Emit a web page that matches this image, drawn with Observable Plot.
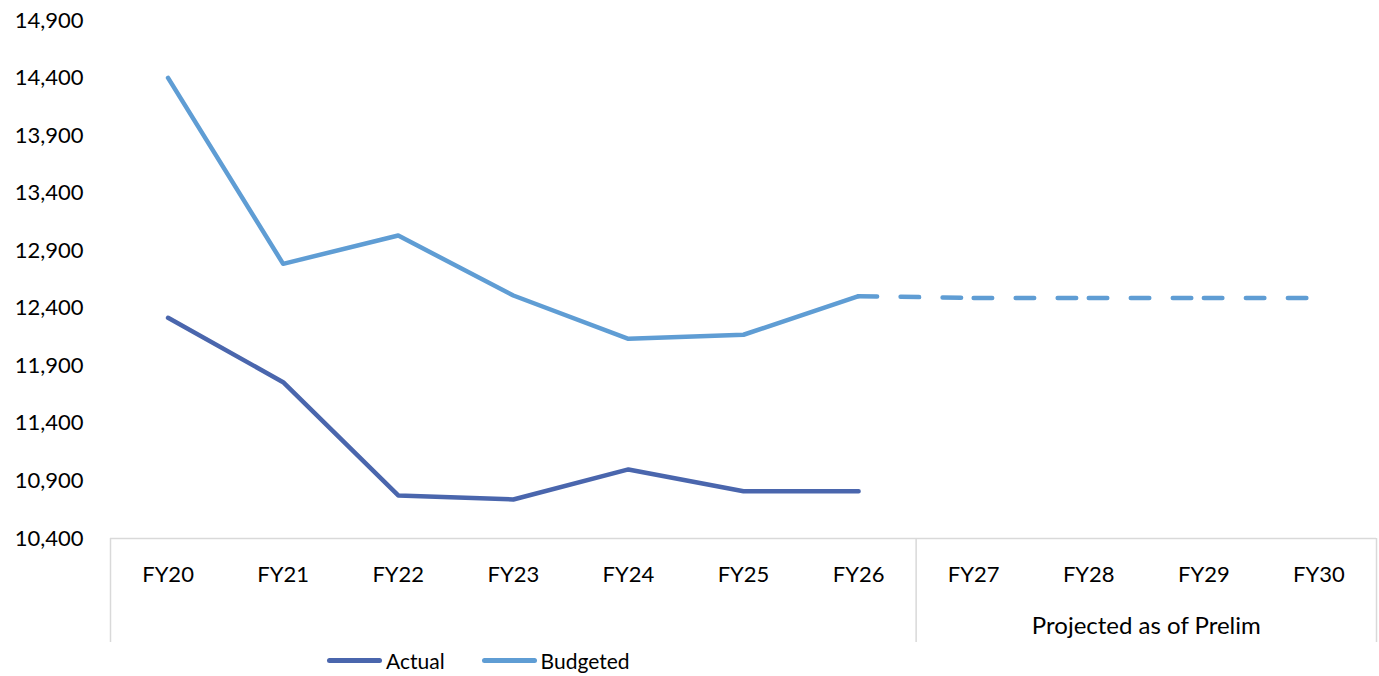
<!DOCTYPE html>
<html><head><meta charset="utf-8">
<script src="https://cdn.jsdelivr.net/npm/d3@7"></script>
<script src="https://cdn.jsdelivr.net/npm/@observablehq/plot@0.6"></script>
<style>
body{margin:0;background:#fff;font-family:Lato,sans-serif;overflow:hidden;}
#legend{display:flex;align-items:center;margin-left:327px;height:30px;font-size:21px;color:#000;font-family:Lato,sans-serif;}
#legend .item{display:flex;align-items:center;margin-right:37px;}
#legend .sw{display:inline-block;width:55px;height:5px;border-radius:3px;margin-right:4px;}
</style></head><body><div id="chart"></div><div id="legend"></div>
<script>
const categories = ["FY20","FY21","FY22","FY23","FY24","FY25","FY26","FY27","FY28","FY29","FY30"];
const actualYears = ["FY20","FY21","FY22","FY23","FY24","FY25","FY26"];
const actual = [12317, 11758, 10774, 10739, 11000, 10811, 10811];
const budgetedYears = ["FY20","FY21","FY22","FY23","FY24","FY25","FY26"];
const budgeted = [14402, 12786, 13032, 12511, 12135, 12170, 12505];
const projectedYears = ["FY26","FY27","FY28","FY29","FY30"];
const projected = [12505, 12490, 12490, 12490, 12490];
const yTicks = [10400, 10900, 11400, 11900, 12400, 12900, 13400, 13900, 14400, 14900];
const groupLabels = ["", "Projected as of Prelim"];
const groupStarts = ["FY20", "FY27"];
const groupEnds = ["FY26", "FY30"];
const seriesNames = ["Actual", "Budgeted"];
const seriesColors = ["#4a66ad", "#5f9dd4"];

const idx = c => categories.indexOf(c);
const actualData = actualYears.map((c, i) => ({x: idx(c), y: actual[i]}));
const budgetData = budgetedYears.map((c, i) => ({x: idx(c), y: budgeted[i]}));
const projData = [];
for (let i = 1; i < projectedYears.length; i++) {
  projData.push({x: idx(projectedYears[i-1]), y: projected[i-1], seg: i});
  projData.push({x: idx(projectedYears[i]), y: projected[i], seg: i});
}
const groups = groupLabels.map((l, i) => ({label: l, mid: (idx(groupStarts[i]) + idx(groupEnds[i])) / 2}));
const boundaries = [idx(groupStarts[0]) - 0.5, ...groupEnds.map(e => idx(e) + 0.5)];

const chart = Plot.plot({
  width: 1379, height: 645,
  marginLeft: 110, marginRight: 3, marginTop: 20, marginBottom: 107,
  style: {fontFamily: "Lato, sans-serif", fontSize: "22px", color: "#000", background: "#fff"},
  x: {type: "linear", domain: [-0.5, categories.length - 0.5]},
  y: {domain: [yTicks[0], yTicks[yTicks.length - 1]]},
  marks: [
    Plot.axisY({ticks: yTicks, tickSize: 0, tickPadding: 27, tickFormat: d3.format(","), label: null, fontSize: 22}),
    Plot.axisX({ticks: boundaries, tickSize: 104, tickFormat: () => "", stroke: "#d9d9d9", strokeWidth: 1.5, label: null}),
    Plot.axisX({ticks: categories.map((c, i) => i), tickSize: 0, tickPadding: 28, tickFormat: i => categories[i], label: null, fontSize: 22}),
    Plot.ruleY([yTicks[0]], {stroke: "#d9d9d9", strokeWidth: 1.5}),
    Plot.text(groups, {x: "mid", text: "label", frameAnchor: "bottom", dy: 95, fontSize: 24, fill: "#000"}),
    Plot.line(budgetData, {x: "x", y: "y", stroke: seriesColors[1], strokeWidth: 4.5, strokeLinecap: "round", strokeLinejoin: "round"}),
    Plot.line(projData, {x: "x", y: "y", z: "seg", stroke: seriesColors[1], strokeWidth: 4.5, strokeLinecap: "round", strokeDasharray: "18.5,23.5"}),
    Plot.line(actualData, {x: "x", y: "y", stroke: seriesColors[0], strokeWidth: 4.5, strokeLinecap: "round", strokeLinejoin: "round"})
  ]
});
document.getElementById("chart").appendChild(chart);

const legend = document.getElementById("legend");
seriesNames.forEach((n, i) => {
  const item = document.createElement("div");
  item.className = "item";
  const sw = document.createElement("span");
  sw.className = "sw";
  sw.style.background = seriesColors[i];
  item.appendChild(sw);
  item.appendChild(document.createTextNode(n));
  legend.appendChild(item);
});
</script></body></html>
